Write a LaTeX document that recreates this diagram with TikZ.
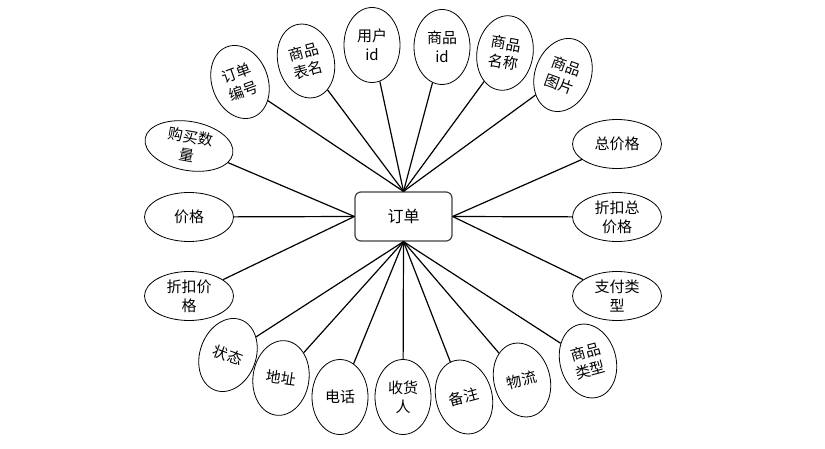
\documentclass[tikz,border=0pt]{standalone}
\usepackage{fontspec}
\newfontfamily\cjk{Noto Sans CJK SC}
\usetikzlibrary{shapes.geometric}
\begin{document}
\begin{tikzpicture}[x=1pt,y=-1pt,
  attr/.style={draw, ellipse, line width=0.8pt, inner sep=0pt, align=center, font=\cjk\fontsize{15}{19}\selectfont},
  wide/.style={attr, minimum width=89pt, minimum height=49pt},
  tall/.style={attr, minimum width=56pt, minimum height=75pt},
  entity/.style={draw=black!75, line width=1.2pt, rounded corners=6pt, minimum width=97pt, minimum height=49pt, inner sep=0pt, font=\cjk\fontsize{16}{19}\selectfont},
  link/.style={line width=1.2pt}]
\useasboundingbox (0,0) rectangle (825,449);
\node[entity] (c) at (403.5,216.5) {订单};
% top
\node[tall, rotate=20]  (ddbh) at (240,82) {订单\\编号};
\node[tall, rotate=15]  (spbm) at (306,61) {商品\\表名};
\node[tall]             (yhid) at (372,45) {用户\\id};
\node[tall]             (spid) at (442,47) {商品\\id};
\node[tall, rotate=-10] (spmc) at (505,53) {商品\\名称};
\node[tall, rotate=-20] (sptp) at (563,75) {商品\\图片};
% left
\node[wide, rotate=-10] (gmsl) at (189,146) {购买数\\量};
\node[wide]             (jg)   at (189,217) {价格};
\node[wide]             (zkjg) at (189,296) {折扣价\\格};
% right
\node[wide] (zjg)   at (617,144) {总价格};
\node[wide] (zkzjg) at (617,217) {折扣总\\价格};
\node[wide] (zflx)  at (617,296) {支付类\\型};
% bottom
\node[tall, rotate=-20] (zt)   at (228,355) {状态};
\node[tall, rotate=-8]  (dz)   at (281,378) {地址};
\node[tall]             (dh)   at (340,397) {电话};
\node[tall]             (shr)  at (403,397) {收货\\人};
\node[tall, rotate=15]  (bz)   at (464,397) {备注};
\node[tall, rotate=15]  (wl)   at (522,380) {物流};
\node[tall, rotate=15]  (splx) at (588,361) {商品\\类型};
% connectors
\foreach \n in {ddbh,spbm,yhid,spid,spmc,sptp} \draw[link] (\n) -- (c.north);
\foreach \n in {gmsl,jg,zkjg} \draw[link] (\n) -- (c.west);
\foreach \n in {zjg,zkzjg,zflx} \draw[link] (\n) -- (c.east);
\foreach \n in {zt,dz,dh,shr,bz,wl,splx} \draw[link] (\n) -- (c.south);
\end{tikzpicture}
\end{document}
